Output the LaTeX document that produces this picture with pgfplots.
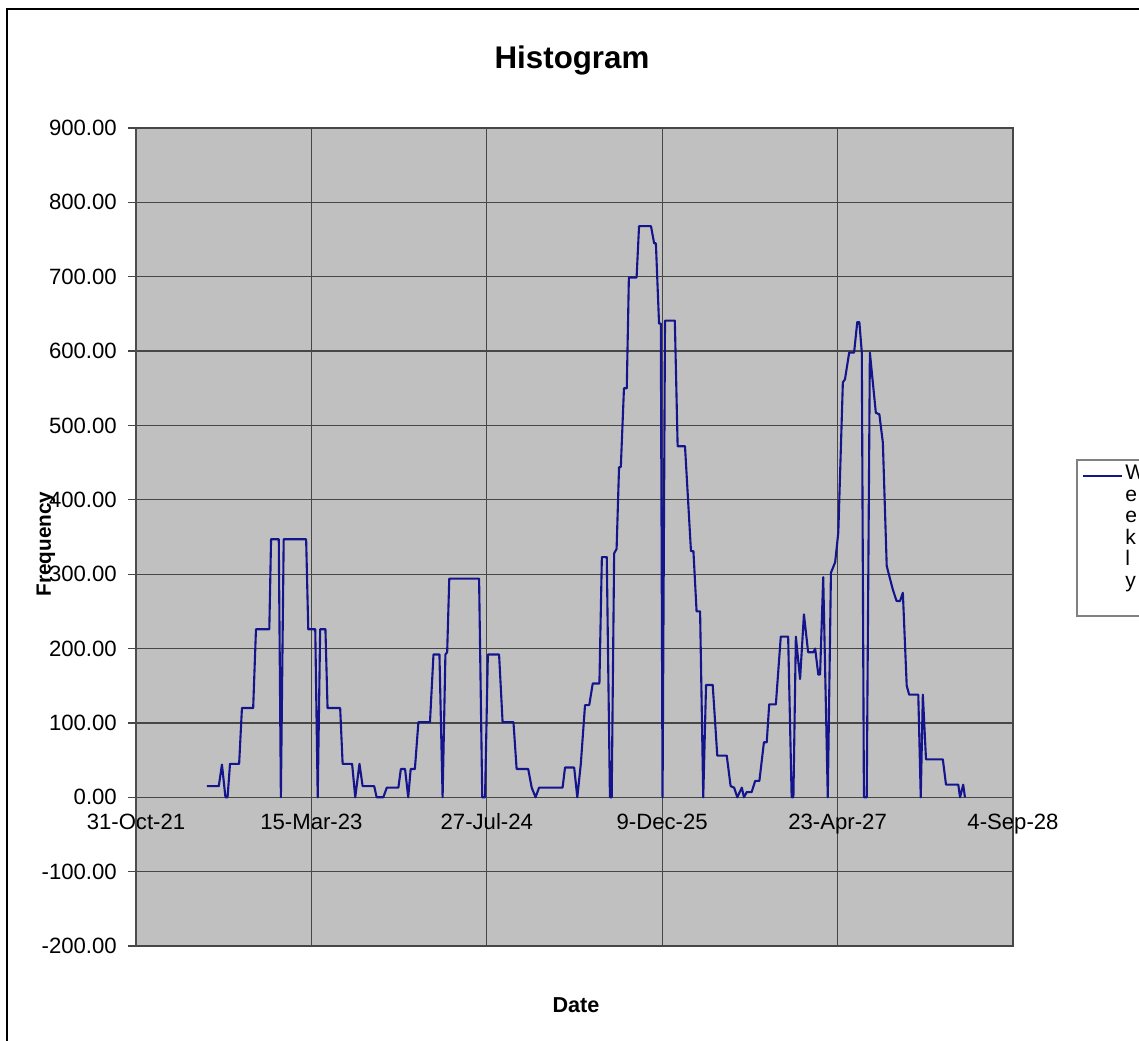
\documentclass[border=0pt]{standalone}
\usepackage{pgfplots}
\pgfplotsset{compat=1.18}
\usepackage{fontspec}
\setmainfont{Liberation Sans}
\definecolor{plotgray}{RGB}{192,192,192}
\definecolor{gridc}{RGB}{70,70,70}
\definecolor{navyline}{RGB}{20,20,140}
\begin{document}
\begin{tikzpicture}[x=1cm,y=1cm]
\useasboundingbox (0,0) rectangle (22.78,20.8);
\clip (0,0) rectangle (22.78,20.8);
\fill[white] (0,0) rectangle (22.78,20.8);
% outer chart frame (right and bottom run off the picture)
\draw[black, line width=1.2pt] (0.14,20.62) rectangle (23.5,-1);
\begin{axis}[
  at={(2.72cm,1.88cm)}, anchor=south west,
  scale only axis, width=17.54cm, height=16.36cm,
  xmin=0, xmax=2500, ymin=-200, ymax=900,
  axis background/.style={fill=plotgray},
  xtick={0,500,1000,1500,2000,2500},
  xticklabels={31-Oct-21,15-Mar-23,27-Jul-24,9-Dec-25,23-Apr-27,4-Sep-28},
  ytick={-200,-100,0,100,200,300,400,500,600,700,800,900},
  ytick pos=left,
  yticklabel style={/pgf/number format/fixed,/pgf/number format/fixed zerofill,/pgf/number format/precision=2,/pgf/number format/1000 sep={},/pgf/number format/assume math mode=true,font=\fontsize{12.6}{15}\selectfont, xshift=-0.1cm},
  xticklabel style={yshift=2.92cm, font=\fontsize{12.6}{15}\selectfont, text height=1.6ex, text depth=0.3ex},
  xtick style={draw=none},
  ytick style={draw=gridc, line width=0.7pt},
  tick align=outside,
  major tick length=0.16cm,
  xmajorgrids, ymajorgrids,
  major grid style={draw=gridc, line width=0.7pt},
  axis line style={draw=gridc, line width=0.7pt},
  clip=true,
]
\addplot[navyline, line width=1.2pt, line join=round] coordinates {
(202,15)(236,15)(245,44)(255,0)(261,0)(268,45)(294,45)(302,120)(334,120)(342,226)(380,226)(385,347)(407,347)(413,0)(421,347)(485,347)(491,226)(511,226)(518,0)(525,226)(540,226)(546,120)(582,120)(589,45)(616,45)(625,0)(637,45)(646,15)(679,15)(686,0)(705,0)(715,13)(748,13)(755,38)(767,38)(776,0)(783,38)(795,38)(805,101)(838,101)(848,192)(865,192)(874,0)(882,192)(887,195)(893,294)(978,294)(987,0)(995,0)(1003,192)(1035,192)(1045,101)(1076,101)(1085,38)(1118,38)(1128,13)(1139,0)(1149,13)(1216,13)(1223,40)(1249,40)(1258,0)(1268,45)(1280,124)(1292,124)(1302,153)(1321,153)(1328,323)(1342,323)(1351,0)(1356,0)(1363,328)(1370,334)(1377,444)(1382,444)(1391,550)(1399,550)(1405,699)(1427,699)(1434,768)(1468,768)(1477,745)(1482,745)(1491,637)(1496,637)(1501,0)(1508,641)(1536,641)(1544,472)(1565,472)(1582,331)(1589,331)(1598,250)(1608,250)(1617,0)(1625,151)(1644,151)(1657,56)(1684,56)(1695,15)(1705,13)(1714,0)(1727,13)(1733,0)(1741,7)(1755,7)(1765,22)(1777,22)(1790,74)(1798,74)(1805,125)(1824,125)(1838,216)(1859,216)(1869,0)(1874,0)(1881,216)(1893,159)(1904,246)(1916,195)(1931,195)(1936,200)(1945,165)(1950,165)(1959,296)(1972,0)(1981,302)(1993,316)(2002,356)(2015,558)(2021,562)(2033,598)(2047,598)(2056,639)(2062,639)(2069,598)(2075,0)(2083,0)(2092,598)(2109,517)(2119,515)(2129,477)(2140,311)(2157,280)(2168,264)(2178,264)(2186,275)(2197,150)(2204,138)(2230,138)(2237,0)(2243,138)(2252,51)(2300,51)(2309,17)(2344,17)(2349,0)(2358,17)(2363,0)
};
\end{axis}
% left axis line darker
\draw[black!70, line width=0.9pt] (2.72,1.88) -- (2.72,18.24);
% title and axis labels
\node[font=\fontsize{17.8}{21}\selectfont\bfseries] at (11.44,19.6) {Histogram};
\node[font=\fontsize{12.3}{15}\selectfont\bfseries] at (11.52,0.7) {Date};
\node[font=\fontsize{11.8}{14}\selectfont\bfseries, rotate=90] at (0.92,9.92) {Frequency};
% legend
\draw[gray, line width=0.6pt, fill=white] (21.54,11.6) rectangle (23.5,8.48);
\draw[navyline, line width=1.1pt] (21.66,11.28) -- (22.44,11.28);
\node[anchor=north west, inner sep=0pt, align=left, font=\fontsize{12}{12.2}\selectfont] at (22.5,11.5) {W\\e\\e\\k\\l\\y};
\end{tikzpicture}
\end{document}
